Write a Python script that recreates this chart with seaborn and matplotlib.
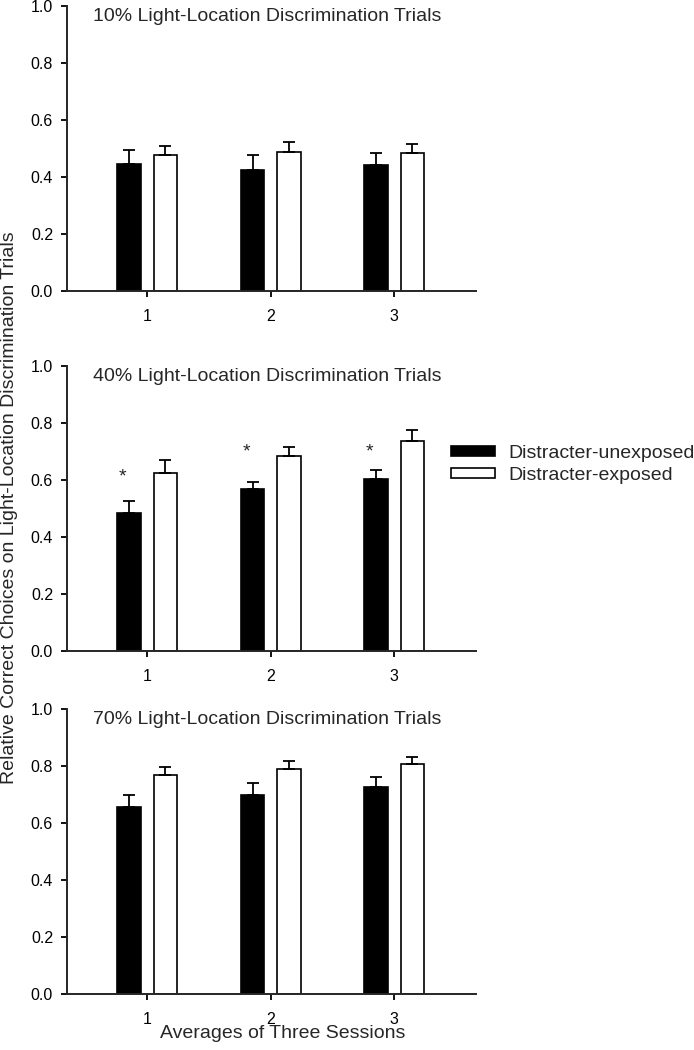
import numpy as np
import pandas as pd
import matplotlib
matplotlib.use("Agg")
import matplotlib.pyplot as plt
import seaborn as sns

# data
sessions = ["1", "2", "3"]
groups = ["Distracter-unexposed", "Distracter-exposed"]
panel_titles = ["10% Light-Location Discrimination Trials",
                "40% Light-Location Discrimination Trials",
                "70% Light-Location Discrimination Trials"]

p10_unexposed = [0.447, 0.425, 0.443]
p10_unexposed_err = [0.047, 0.051, 0.040]
p10_exposed = [0.478, 0.489, 0.485]
p10_exposed_err = [0.032, 0.034, 0.031]

p40_unexposed = [0.483, 0.570, 0.605]
p40_unexposed_err = [0.042, 0.022, 0.031]
p40_exposed = [0.623, 0.685, 0.737]
p40_exposed_err = [0.046, 0.032, 0.038]

p70_unexposed = [0.658, 0.700, 0.726]
p70_unexposed_err = [0.039, 0.042, 0.035]
p70_exposed = [0.770, 0.791, 0.807]
p70_exposed_err = [0.026, 0.028, 0.025]

# significance stars (40% panel), height of the star
p40_star_y = [0.612, 0.700, 0.700]

sns.set_style("ticks")
plt.rcParams["font.family"] = ["Liberation Sans", "DejaVu Sans"]
plt.rcParams["axes.linewidth"] = 1.4

panels = [
    (p10_unexposed, p10_unexposed_err, p10_exposed, p10_exposed_err, None),
    (p40_unexposed, p40_unexposed_err, p40_exposed, p40_exposed_err, p40_star_y),
    (p70_unexposed, p70_unexposed_err, p70_exposed, p70_exposed_err, None),
]

fig = plt.figure(figsize=(6.94, 10.5), dpi=100)
left, width, height = 0.0965, 0.589, 0.2714
bottoms = [0.7229, 0.3800, 0.0533]

palette = {groups[0]: "black", groups[1]: "white"}

for i, (unexp, unexp_err, exp, exp_err, stars) in enumerate(panels):
    ax = fig.add_axes([left, bottoms[i], width, height])
    df = pd.DataFrame({
        "session": sessions * 2,
        "group": [groups[0]] * 3 + [groups[1]] * 3,
        "value": unexp + exp,
    })
    sns.barplot(data=df, x="session", y="value", hue="group", hue_order=groups,
                order=sessions, palette=palette, edgecolor="black", linewidth=1.2,
                width=0.59, gap=0.36, errorbar=None, legend=False, ax=ax)

    # upward-only error bars at the bar centres
    for cont, err in zip(ax.containers, [unexp_err, exp_err]):
        xs = [p.get_x() + p.get_width() / 2 for p in cont.patches]
        ys = [p.get_height() for p in cont.patches]
        ax.errorbar(xs, ys, yerr=[np.zeros(len(err)), err], fmt="none",
                    ecolor="black", elinewidth=1.3, capsize=4.5, capthick=1.3, zorder=1)

    if stars is not None:
        for p, sy in zip(ax.containers[0].patches, stars):
            ax.text(p.get_x() + p.get_width() / 2 - 0.05, sy, "*", ha="center", va="center",
                    fontsize=14)

    ax.set_ylim(0, 1.0)
    ax.set_xlim(-0.65, 2.66)
    ax.set_yticks(np.arange(0, 1.01, 0.2))
    ax.set_yticklabels([f"{v:.1f}" for v in np.arange(0, 1.01, 0.2)])
    ax.tick_params(axis="both", labelsize=11.5, length=4.5, width=1.3, colors="black")
    ax.tick_params(axis="x", pad=8.5)
    ax.tick_params(axis="y", pad=5.5)
    ax.set_xlabel("")
    ax.set_ylabel("")
    sns.despine(ax=ax)
    ax.text(0.064, 0.963, panel_titles[i], transform=ax.transAxes, fontsize=14,
            ha="left", va="center")
    if i == 1:
        handles = list(ax.containers)

fig.legend(handles, groups, loc="upper left", bbox_to_anchor=(451 / 694, 1 - 445 / 1050),
           frameon=False, borderpad=0, borderaxespad=0, fontsize=14,
           handlelength=2.27, handleheight=0.46, handletextpad=0.67, labelspacing=0.25)

fig.text(0.014, 1 - 508 / 1050,
         "Relative Correct Choices on Light-Location Discrimination Trials",
         rotation=90, ha="center", va="center", fontsize=14)
fig.text(283 / 694, 1 - 1034 / 1050, "Averages of Three Sessions",
         ha="center", va="center", fontsize=14)

fig.savefig("out.png", dpi=100)
